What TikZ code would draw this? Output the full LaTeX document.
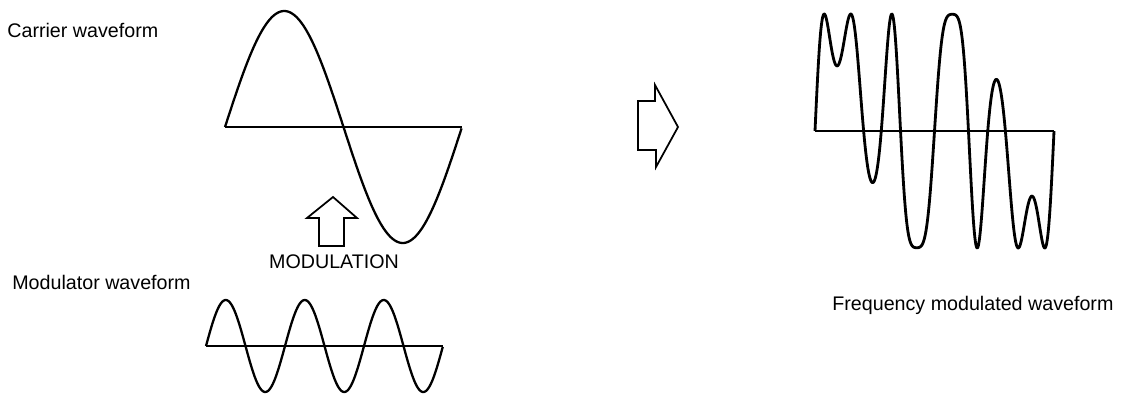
\documentclass[tikz,border=0pt]{standalone}
\usepackage{fontspec}
\setmainfont{Liberation Sans}
\usepackage{tikz}

\begin{document}
\begin{tikzpicture}[x=0.02cm,y=-0.02cm,
          wave/.style={line width=1.3pt,line join=round},
          fmwave/.style={line width=1.6pt,line join=round},
          baseln/.style={line width=0.85pt},
          blkarrow/.style={line width=1pt,line join=miter},
          lbl/.style={font=\fontsize{11.2}{13}\selectfont,inner sep=0pt}]
        \useasboundingbox (0,0) rectangle (1135,393);
        % labels
        \node[lbl,anchor=base west] (carlbl) at (7,37)    {Carrier waveform};
        \node[lbl,anchor=base west] (modlbl) at (12,289)  {Modulator waveform};
        \node[lbl,anchor=base]      (mod)    at (334,268) {MODULATION};
        \node[lbl,anchor=base west] (fmlbl)  at (832,310) {Frequency modulated waveform};
        % carrier
        \draw[baseln] (225,127) -- (462,127);
        \draw[wave] plot[domain=0:1,samples=150,smooth]
              ({225+237*\x},{127-116*sin(deg(2*pi*\x))});
        % modulator
        \draw[baseln] (206,346) -- (443,346);
        \draw[wave] plot[domain=0:1,samples=200,smooth]
              ({206+237*\x},{346-46*sin(deg(6*pi*\x))});
        % modulated
        \draw[baseln] (815,131) -- (1054,131);
        \draw[fmwave] plot[domain=0:1,samples=600]
              ({815+239*\x},{131-117*sin(deg(2*pi*\x+2*sin(deg(6*pi*\x))))})
              -- (1054,131);
        % block arrows
        \draw[blkarrow] (333,197) -- (357,218) -- (344,218) -- (344,246)
              -- (319,246) -- (319,218) -- (307,218) -- cycle;
        \draw[blkarrow] (678,127) -- (656,167) -- (656,150) -- (638,150)
              -- (638,101) -- (655,101) -- (655,85) -- cycle;
      \end{tikzpicture}
\end{document}
